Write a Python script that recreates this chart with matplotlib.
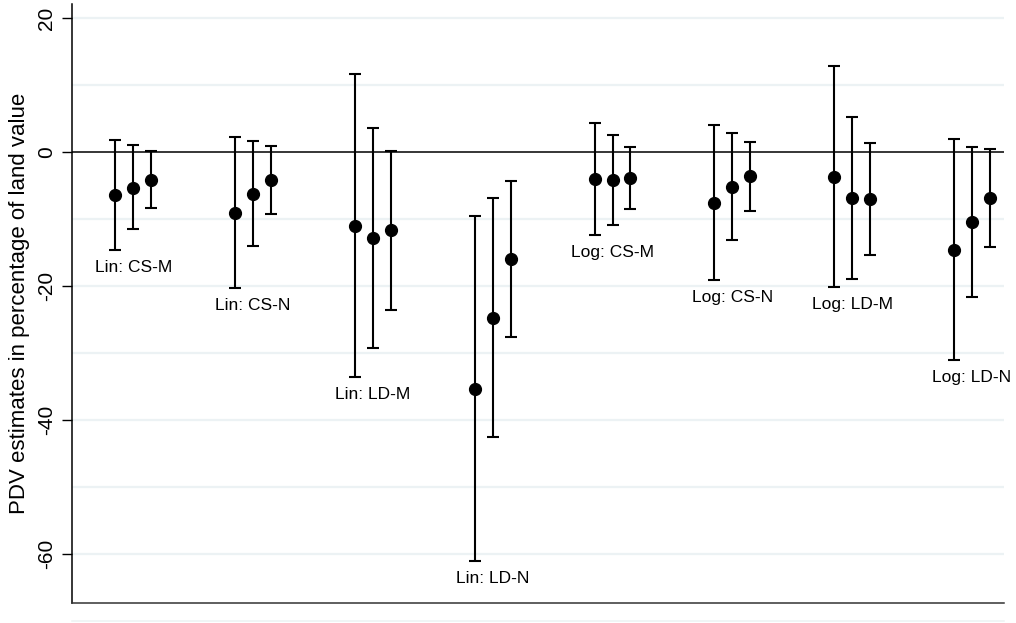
import numpy as np
import matplotlib.pyplot as plt
from matplotlib.lines import Line2D

plt.rcParams['font.family'] = ['Liberation Sans', 'DejaVu Sans']

# model / specification labels
groups = ["Lin: CS-M", "Lin: CS-N", "Lin: LD-M", "Lin: LD-N",
          "Log: CS-M", "Log: CS-N", "Log: LD-M", "Log: LD-N"]

# three estimates per group (point, lower CI, upper CI)
est = [
    [-6.4, -5.3, -4.1],
    [-9.1, -6.2, -4.2],
    [-11.0, -12.8, -11.7],
    [-35.3, -24.7, -16.0],
    [-4.0, -4.1, -3.8],
    [-7.6, -5.2, -3.6],
    [-3.7, -6.8, -7.0],
    [-14.6, -10.4, -6.8],
]
lower = [
    [-14.6, -11.5, -8.3],
    [-20.3, -14.0, -9.3],
    [-33.6, -29.3, -23.6],
    [-61.1, -42.5, -27.6],
    [-12.4, -10.9, -8.5],
    [-19.1, -13.1, -8.8],
    [-20.1, -19.0, -15.3],
    [-31.0, -21.7, -14.1],
]
upper = [
    [1.8, 1.0, 0.1],
    [2.3, 1.6, 0.9],
    [11.6, 3.6, 0.2],
    [-9.6, -6.8, -4.3],
    [4.4, 2.6, 0.8],
    [4.1, 2.8, 1.5],
    [12.8, 5.2, 1.3],
    [1.9, 0.7, 0.5],
]

yticks = [20, 0, -20, -40, -60]
ygrid = [20, 10, -10, -20, -30, -40, -50, -60]

fig = plt.figure(figsize=(10.16, 6.23), dpi=100)
ax = fig.add_axes([72 / 1016, 1 - 603 / 623, (1004 - 72) / 1016, (603 - 4) / 623])

for y in ygrid:
    ax.axhline(y, color='#ecf2f4', lw=1.6, zorder=0)
ax.axhline(0, color='black', lw=1.1, zorder=1)

offsets = np.array([-0.15, 0.0, 0.15])
for i, name in enumerate(groups):
    xs = (i + 1) + offsets
    e = np.array(est[i])
    lo = np.array(lower[i])
    hi = np.array(upper[i])
    ax.errorbar(xs, e, yerr=[e - lo, hi - e], fmt='o', color='black',
                ms=8.5, lw=1.5, capsize=4.3, capthick=1.5, zorder=3)
    ax.annotate(name, xy=(i + 1, lo.min()), xytext=(0, -12.5),
                textcoords='offset points', ha='center', va='center',
                fontsize=12.5)

ax.set_xlim(0.488, 8.268)
ax.set_ylim(-67.3, 22.1)
ax.set_xticks([])
ax.set_yticks(yticks)
ax.set_yticklabels([str(t) for t in yticks], rotation=90, va='center', fontsize=15)
ax.tick_params(axis='y', length=7, width=1, pad=4.5)
ax.set_ylabel("PDV estimates in percentage of land value", fontsize=16, labelpad=5)

for side in ['top', 'right']:
    ax.spines[side].set_visible(False)
ax.spines['left'].set_linewidth(1.1)
ax.spines['bottom'].set_linewidth(1.1)
ax.spines['bottom'].set_color('#333333')

fig.add_artist(Line2D([72 / 1016, 1004 / 1016], [1 - 621 / 623] * 2,
                      transform=fig.transFigure, color='#eef4f4', lw=1.2))

fig.savefig("out.png", dpi=100)
